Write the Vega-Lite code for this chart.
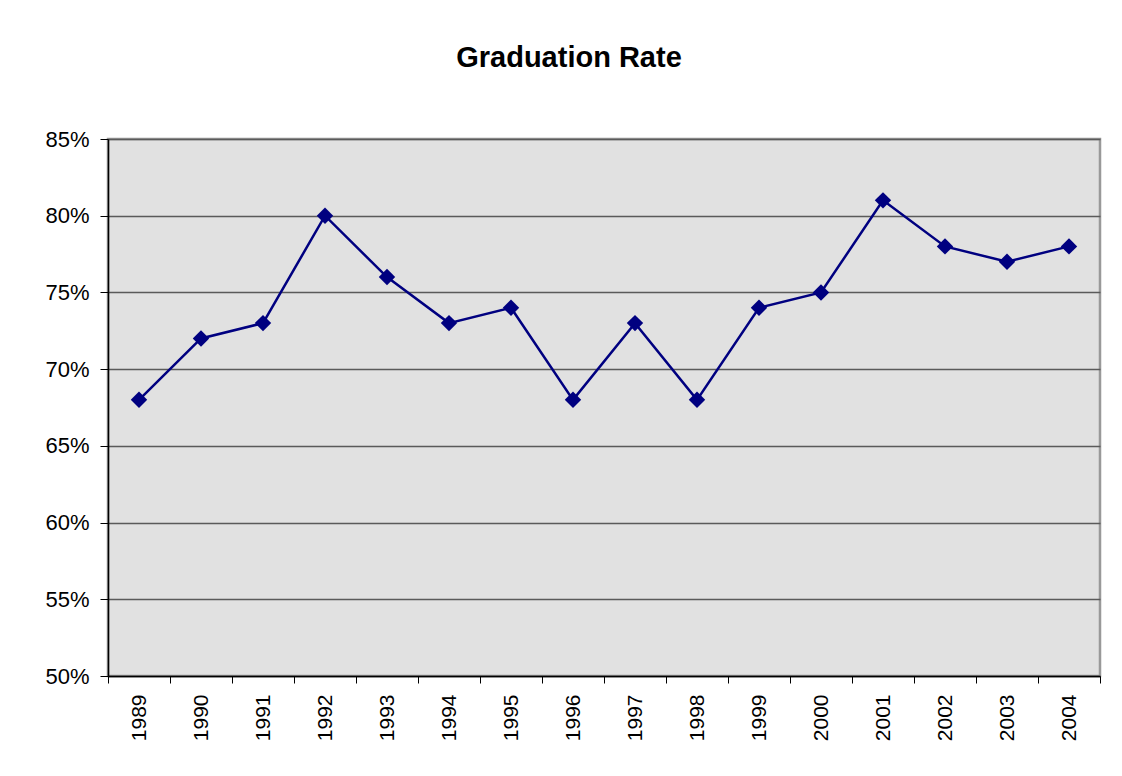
{
  "$schema": "https://vega.github.io/schema/vega-lite/v6.json",
  "width": 992,
  "height": 537,
  "autosize": {"type": "none"},
  "padding": {"left": 108, "top": 139, "right": 22, "bottom": 100},
  "background": "white",
  "title": {
    "text": "Graduation Rate",
    "font": "Liberation Sans",
    "fontSize": 29,
    "fontWeight": "bold",
    "color": "black",
    "anchor": "middle",
    "dx": -35,
    "offset": 55
  },
  "data": {
    "values": [
      {"year": "1989", "rate": 0.68},
      {"year": "1990", "rate": 0.72},
      {"year": "1991", "rate": 0.73},
      {"year": "1992", "rate": 0.80},
      {"year": "1993", "rate": 0.76},
      {"year": "1994", "rate": 0.73},
      {"year": "1995", "rate": 0.74},
      {"year": "1996", "rate": 0.68},
      {"year": "1997", "rate": 0.73},
      {"year": "1998", "rate": 0.68},
      {"year": "1999", "rate": 0.74},
      {"year": "2000", "rate": 0.75},
      {"year": "2001", "rate": 0.81},
      {"year": "2002", "rate": 0.78},
      {"year": "2003", "rate": 0.77},
      {"year": "2004", "rate": 0.78}
    ]
  },
  "encoding": {
    "x": {
      "field": "year",
      "type": "ordinal",
      "scale": {"type": "band", "paddingInner": 0, "paddingOuter": 0},
      "axis": {
        "title": null,
        "labelAngle": -90,
        "labelAlign": "right",
        "labelBaseline": "middle",
        "labelFont": "Liberation Sans",
        "labelFontSize": 21,
        "labelColor": "black",
        "labelPadding": 11,
        "tickSize": 7,
        "tickColor": "black",
        "tickWidth": 1,
        "tickBand": "extent",
        "domainColor": "black",
        "domainWidth": 1.5,
        "grid": false
      }
    },
    "y": {
      "field": "rate",
      "type": "quantitative",
      "scale": {"domain": [0.5, 0.85], "nice": false, "zero": false},
      "axis": {
        "title": null,
        "format": ".0%",
        "values": [0.5, 0.55, 0.6, 0.65, 0.7, 0.75, 0.8, 0.85],
        "labelFont": "Liberation Sans",
        "labelFontSize": 22,
        "labelColor": "black",
        "labelPadding": 11,
        "tickSize": 8,
        "tickColor": "black",
        "domainColor": "black",
        "domainWidth": 1.5,
        "grid": true,
        "gridColor": "#5a5a5a",
        "gridWidth": 1.3
      }
    }
  },
  "layer": [
    {
      "mark": {"type": "line", "color": "#000080", "strokeWidth": 2.5}
    },
    {
      "mark": {"type": "point", "shape": "diamond", "filled": true, "size": 270, "color": "#000080", "opacity": 1}
    }
  ],
  "config": {
    "view": {"fill": "#e1e1e1", "stroke": "#999999", "strokeWidth": 2.5}
  }
}
